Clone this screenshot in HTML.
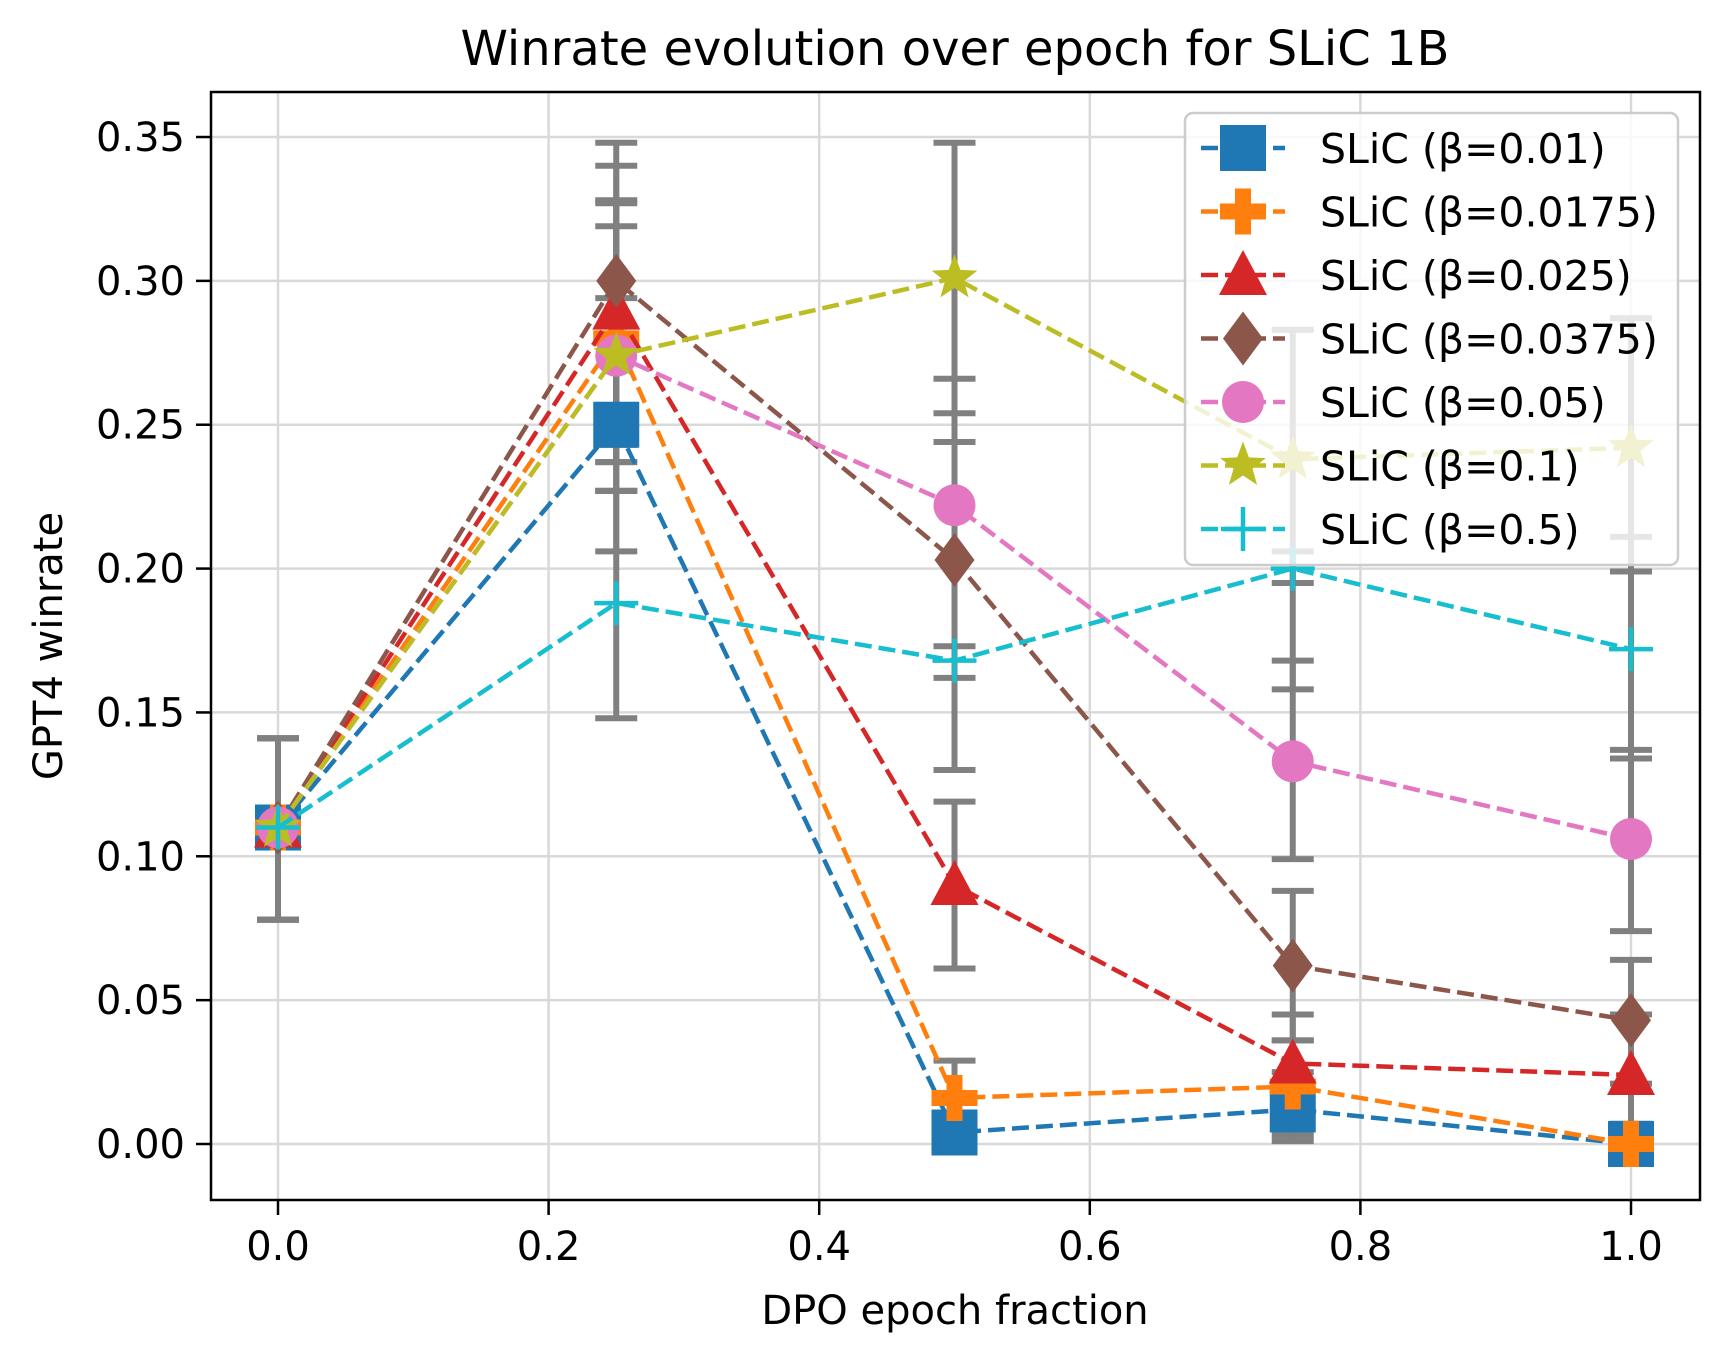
<!DOCTYPE html>
<html><head><meta charset="utf-8"><style>
html,body{margin:0;padding:0;background:#fff;}
svg{display:block;font-family:"DejaVu Sans","Liberation Sans",sans-serif;}
</style></head><body>
<svg id="chart" width="1728" height="1361" viewBox="0 0 1728 1361" xmlns="http://www.w3.org/2000/svg">
<rect x="0" y="0" width="1728" height="1361" fill="#fff"/>
<text x="955" y="65" font-size="48" text-anchor="middle">Winrate evolution over epoch for SLiC 1B</text>
<g id="grid"></g>
<g id="errs"></g>
<g id="series"></g>
<rect x="211" y="92" width="1489" height="1108" fill="none" stroke="#000" stroke-width="2.5"/>
<g id="ticks"></g>
<text x="955" y="1324" font-size="40" text-anchor="middle">DPO epoch fraction</text>
<text transform="translate(62,646) rotate(-90)" font-size="40" text-anchor="middle">GPT4 winrate</text>
<g id="legend"></g>
</svg>
<script>
const xVals=[0,0.25,0.5,0.75,1.0];
const xTicks=[0,0.2,0.4,0.6,0.8,1.0];
const yTicks=[0,0.05,0.1,0.15,0.2,0.25,0.3,0.35];
const labels=["SLiC (β=0.01)","SLiC (β=0.0175)","SLiC (β=0.025)","SLiC (β=0.0375)","SLiC (β=0.05)","SLiC (β=0.1)","SLiC (β=0.5)"];
const colors=["#1f77b4","#ff7f0e","#d62728","#8c564b","#e377c2","#bcbd22","#17becf"];
const markers=["square","plus","triangle","diamond","circle","star","thin"];
const s001=[0.11,0.25,0.004,0.012,0.0];
const s0175=[0.11,0.28,0.016,0.02,0.0];
const s025=[0.11,0.29,0.09,0.028,0.024];
const s0375=[0.11,0.30,0.203,0.062,0.043];
const s05=[0.11,0.274,0.222,0.133,0.106];
const s1=[0.11,0.274,0.301,0.238,0.242];
const s5=[0.11,0.188,0.168,0.2,0.172];
const lo001=[0.078,0.206,0.0,0.001,0.0], hi001=[0.141,0.294,0.016,0.025,0.007];
const lo0175=[0.078,0.227,0.003,0.003,0.0], hi0175=[0.141,0.327,0.029,0.036,0.007];
const lo025=[0.078,0.237,0.061,0.011,0.007], hi025=[0.141,0.340,0.119,0.045,0.045];
const lo0375=[0.078,0.243,0.162,0.036,0.021], hi0375=[0.141,0.348,0.244,0.088,0.064];
const lo05=[0.078,0.227,0.173,0.099,0.074], hi05=[0.141,0.319,0.266,0.168,0.137];
const lo1=[0.078,0.237,0.254,0.195,0.199], hi1=[0.141,0.328,0.348,0.283,0.287];
const lo5=[0.078,0.148,0.130,0.158,0.134], hi5=[0.141,0.227,0.244,0.206,0.211];
const series=[s001,s0175,s025,s0375,s05,s1,s5];
const los=[lo001,lo0175,lo025,lo0375,lo05,lo1,lo5];
const his=[hi001,hi0175,hi025,hi0375,hi05,hi1,hi5];
const NS="http://www.w3.org/2000/svg";
function X(v){return 278+v*1353;}
function Y(v){return 1144-v*2877.1;}
function mk(tag,attrs,parent){const e=document.createElementNS(NS,tag);for(const k in attrs)e.setAttribute(k,attrs[k]);parent.appendChild(e);return e;}
const grid=document.getElementById('grid'),ticks=document.getElementById('ticks');
xTicks.forEach(t=>{
  const g=mk('line',{x1:X(t),x2:X(t),y1:92,y2:1200,stroke:'#d9d9d9','stroke-width':2.5},grid);
  
  
  mk('line',{x1:X(t),x2:X(t),y1:1200,y2:1215,stroke:'#000','stroke-width':2.5},ticks);
  const l=mk('text',{x:X(t),y:1260,'font-size':40,'text-anchor':'middle'},ticks);
  
  
  l.textContent=t.toFixed(1);
});
yTicks.forEach(t=>{
  const g=mk('line',{x1:211,x2:1700,y1:Y(t),y2:Y(t),stroke:'#d9d9d9','stroke-width':2.5},grid);
  
  
  mk('line',{x1:196,x2:211,y1:Y(t),y2:Y(t),stroke:'#000','stroke-width':2.5},ticks);
  const l=mk('text',{x:185,y:Y(t)+14,'font-size':40,'text-anchor':'end'},ticks);
  
  
  l.textContent=t.toFixed(2);
});
function marker(type,cx,cy,c,parent){
  let e;
  if(type==='square')e=mk('rect',{x:cx-23,y:cy-23,width:46,height:46,fill:c},parent);
  else if(type==='plus')e=mk('path',{d:`M${cx-8},${cy-23}h16v15h15v16h-15v15h-16v-15h-15v-16h15z`,fill:c},parent);
  else if(type==='triangle')e=mk('path',{d:`M${cx},${cy-25}L${cx+24},${cy+20}L${cx-24},${cy+20}z`,fill:c},parent);
  else if(type==='diamond')e=mk('path',{d:`M${cx},${cy-27}L${cx+20},${cy}L${cx},${cy+27}L${cx-20},${cy}z`,fill:c},parent);
  else if(type==='circle')e=mk('circle',{cx:cx,cy:cy,r:21,fill:c},parent);
  else if(type==='star'){let d='';for(let i=0;i<10;i++){const r=i%2?10:24,a=-Math.PI/2+i*Math.PI/5;d+=(i?'L':'M')+(cx+r*Math.cos(a))+','+(cy+r*Math.sin(a));}e=mk('path',{d:d+'z',fill:c},parent);}
  else e=mk('path',{d:`M${cx-22},${cy}h44M${cx},${cy-22}v44`,stroke:c,'stroke-width':4.5,fill:'none'},parent);
  return e;
}
const errs=document.getElementById('errs'),sg=document.getElementById('series');
series.forEach((s,i)=>{
  xVals.forEach((xv,j)=>{
    const g=mk('g',{stroke:'#808080','stroke-width':6},errs);
    
    
    mk('line',{x1:X(xv),x2:X(xv),y1:Y(los[i][j]),y2:Y(his[i][j])},g);
    mk('line',{x1:X(xv)-21,x2:X(xv)+21,y1:Y(los[i][j]),y2:Y(los[i][j])},g);
    mk('line',{x1:X(xv)-21,x2:X(xv)+21,y1:Y(his[i][j]),y2:Y(his[i][j])},g);
  });
});
series.forEach((s,i)=>{
  const g=mk('g',{},sg);
  
  
  const p=mk('polyline',{points:s.map((v,j)=>X(xVals[j])+','+Y(v)).join(' '),fill:'none',stroke:colors[i],'stroke-width':4.5,'stroke-dasharray':'17,7'},g);
  
  
  s.forEach((v,j)=>{const m=marker(markers[i],X(xVals[j]),Y(v),colors[i],g);
    
    });
});
const lg=document.getElementById('legend');
mk('rect',{x:1185,y:113,width:493,height:452,rx:8,fill:'#fff','fill-opacity':0.8,stroke:'#ccc','stroke-width':2.5},lg);
labels.forEach((lab,i)=>{
  const y=148+i*63.5;
  const e=mk('g',{},lg);
  
  
  mk('line',{x1:1201,x2:1285,y1:y,y2:y,stroke:colors[i],'stroke-width':4.5,'stroke-dasharray':'17,7'},e);
  marker(markers[i],1243,y,colors[i],e);
  const t=mk('text',{x:1320,y:y+15,'font-size':41},e);
  t.textContent=lab;
});
</script>
</body></html>
